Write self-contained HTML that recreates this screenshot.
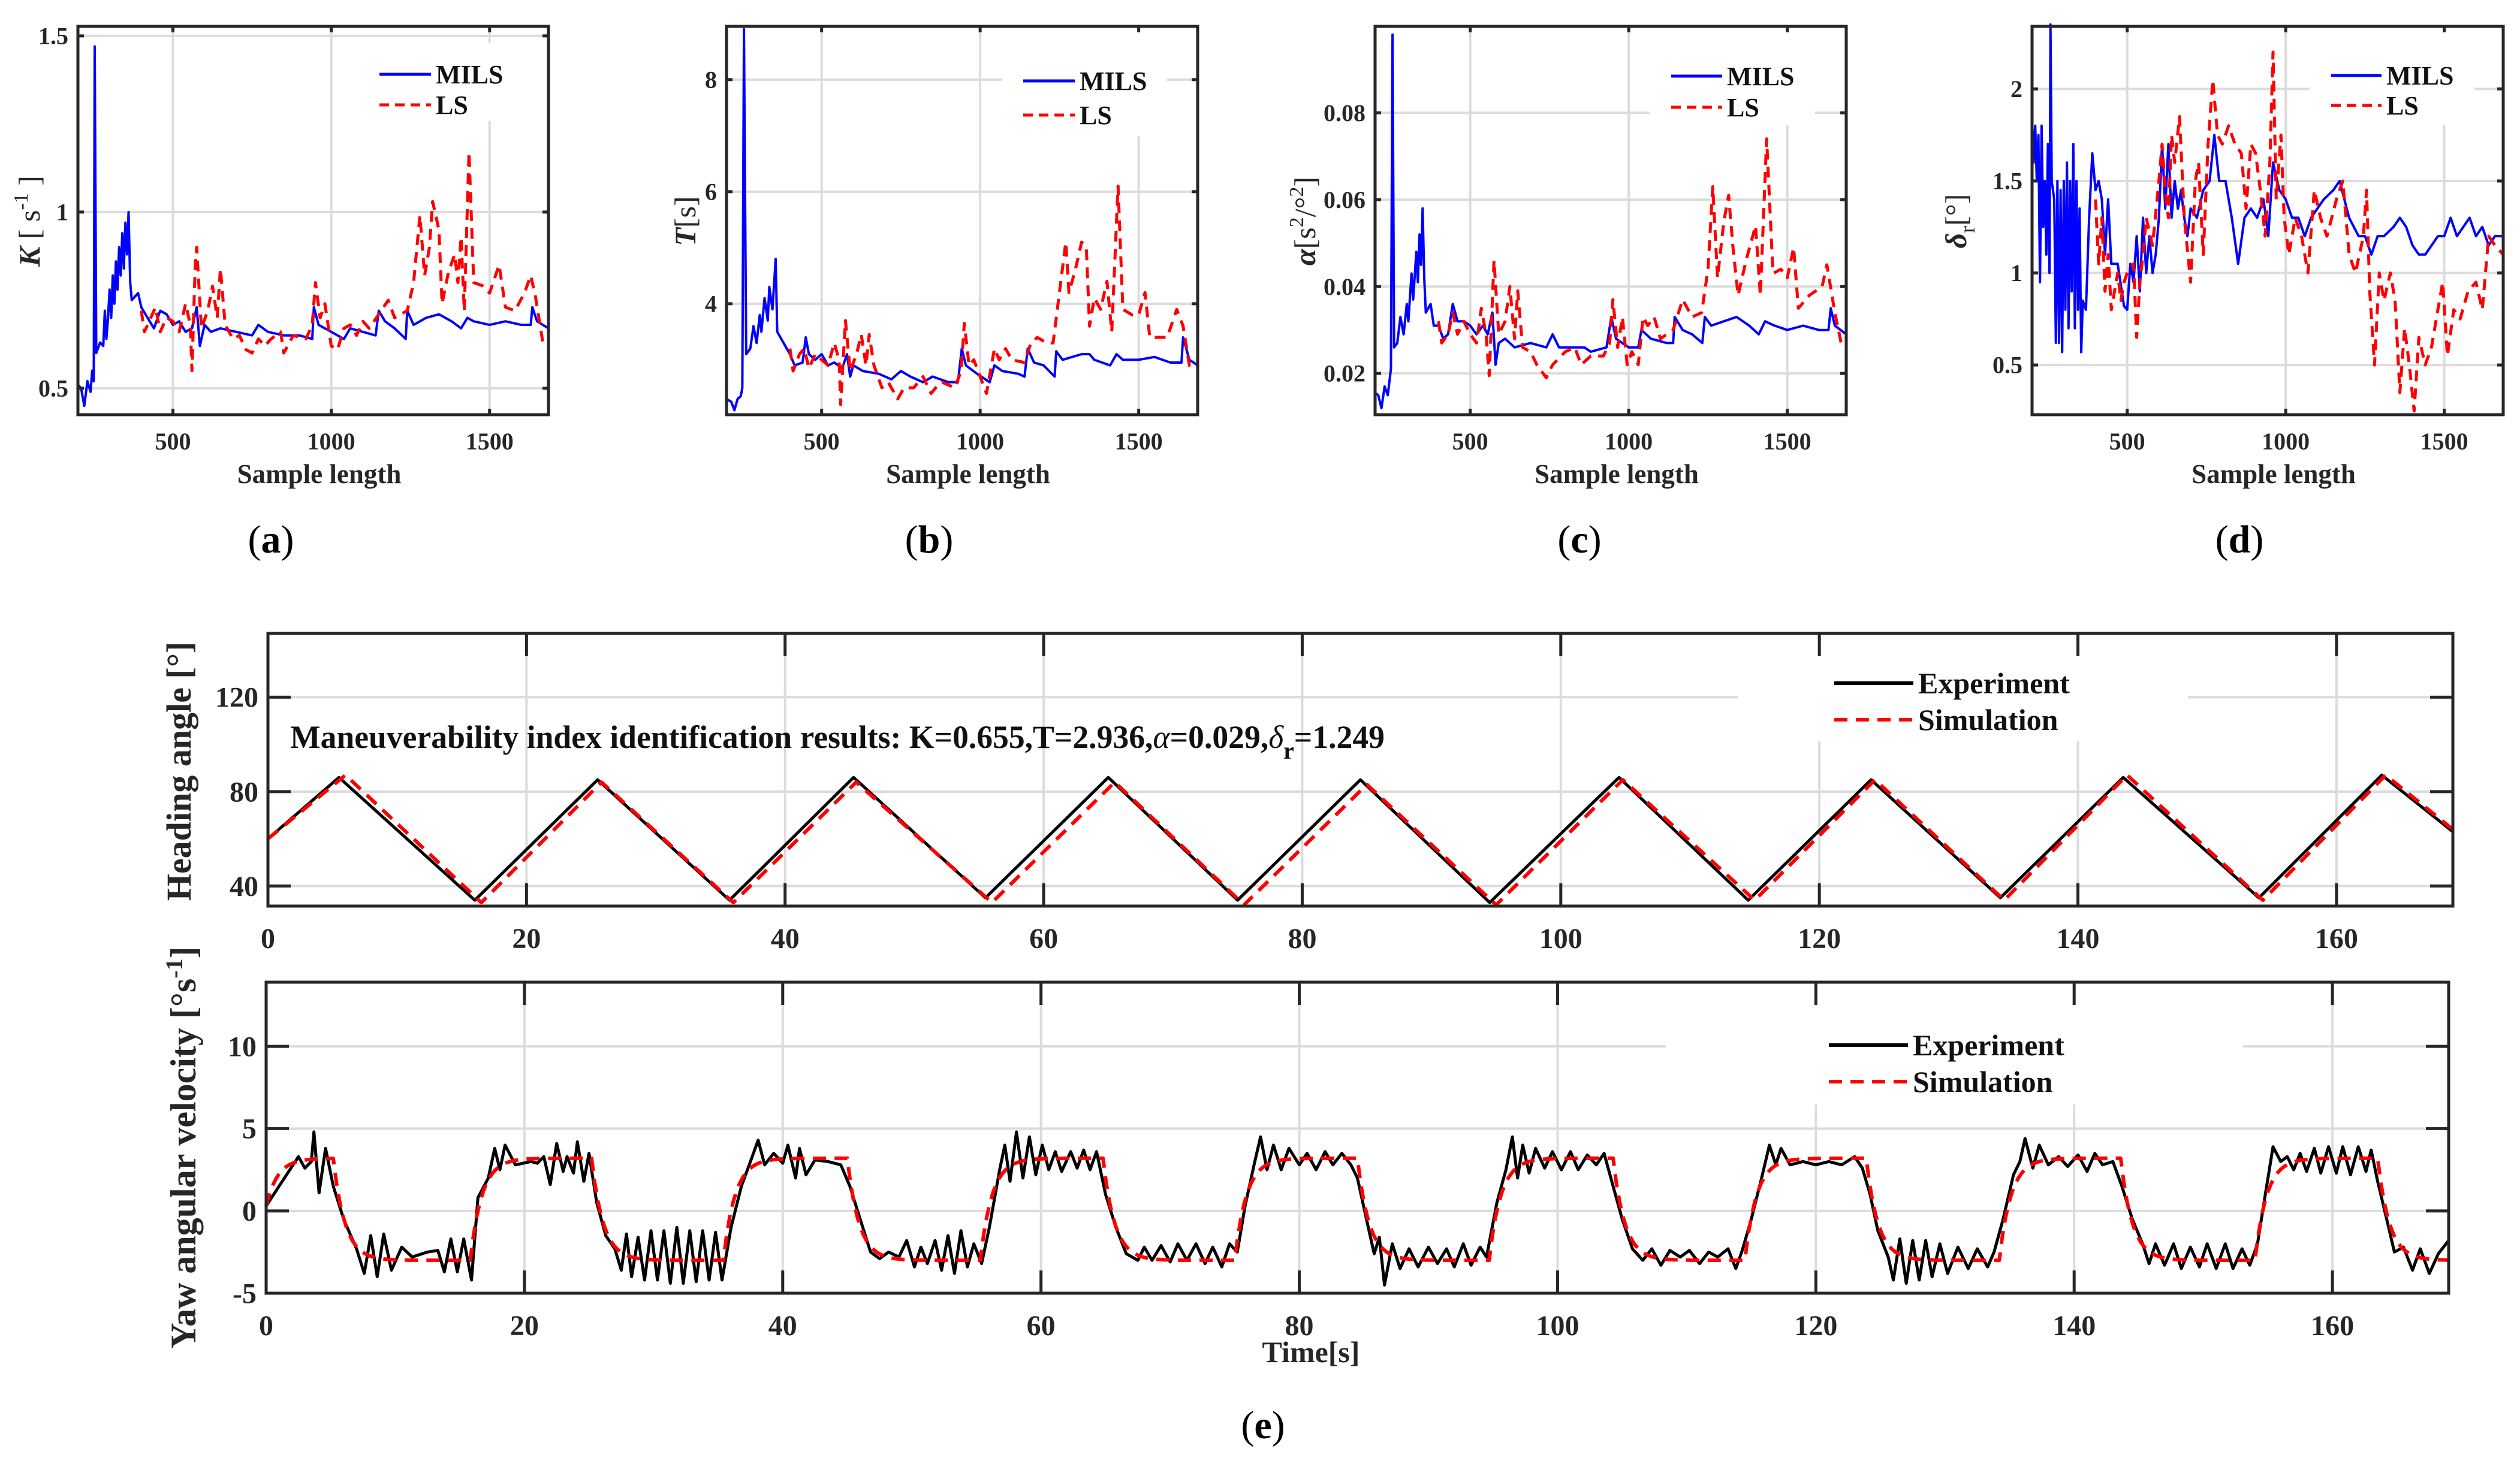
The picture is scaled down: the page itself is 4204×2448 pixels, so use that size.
<!DOCTYPE html>
<html><head><meta charset="utf-8"><style>
html,body{margin:0;padding:0;background:#fff;}
svg{display:block;font-family:"Liberation Serif",serif;}
</style></head><body>
<svg id="fig" width="4204" height="2448" viewBox="0 0 4204 2448" xmlns="http://www.w3.org/2000/svg"></svg>
<script>
// ---------- DATA ----------
const sampleTicks=[500,1000,1500];
const aMils=[[200,0.51],[210,0.50],[220,0.45],[230,0.52],[240,0.49],[245,0.55],[250,0.52],[253,1.47],[258,0.6],[270,0.63],[280,0.62],[285,0.72],[290,0.64],[295,0.70],[300,0.78],[305,0.70],[310,0.82],[315,0.74],[320,0.86],[325,0.78],[330,0.90],[335,0.82],[340,0.94],[345,0.84],[350,0.97],[355,0.88],[360,1.0],[365,0.8],[370,0.75],[380,0.76],[390,0.77],[400,0.73],[420,0.70],[440,0.67],[460,0.72],[480,0.71],[500,0.68],[520,0.69],[540,0.66],[560,0.67],[575,0.73],[585,0.62],[600,0.68],[620,0.66],[650,0.67],[700,0.66],[750,0.65],[770,0.68],[800,0.66],[850,0.65],[900,0.65],[940,0.64],[945,0.73],[960,0.68],[1000,0.66],[1040,0.64],[1060,0.67],[1100,0.66],[1140,0.65],[1150,0.72],[1170,0.69],[1200,0.67],[1235,0.64],[1240,0.72],[1260,0.68],[1300,0.70],[1340,0.71],[1380,0.69],[1410,0.67],[1430,0.70],[1450,0.69],[1500,0.68],[1550,0.69],[1600,0.68],[1630,0.68],[1635,0.73],[1650,0.69],[1686,0.67]];
const aLs=[[400,0.72],[410,0.66],[430,0.70],[445,0.73],[460,0.66],[480,0.70],[500,0.69],[520,0.66],[540,0.74],[555,0.68],[560,0.55],[570,0.84],[575,0.90],[590,0.67],[610,0.72],[625,0.79],[640,0.70],[650,0.84],[665,0.68],[690,0.64],[710,0.65],[730,0.61],[750,0.60],[770,0.64],[790,0.62],[810,0.64],[840,0.66],[850,0.60],[880,0.65],[920,0.64],[940,0.68],[950,0.80],[965,0.70],[980,0.74],[1000,0.62],[1020,0.61],[1040,0.67],[1060,0.68],[1080,0.65],[1100,0.69],[1120,0.67],[1150,0.71],[1180,0.75],[1200,0.70],[1240,0.72],[1260,0.80],[1280,0.99],[1295,0.82],[1310,0.90],[1320,1.03],[1340,0.95],[1350,0.74],[1370,0.83],[1390,0.88],[1400,0.80],[1410,0.93],[1420,0.72],[1435,1.17],[1450,0.80],[1480,0.79],[1500,0.77],[1530,0.85],[1550,0.73],[1580,0.72],[1610,0.77],[1630,0.82],[1645,0.76],[1670,0.62]];
const bMils=[[200,2.3],[215,2.25],[225,2.1],[235,2.3],[245,2.35],[250,2.5],[255,8.9],[262,3.1],[275,3.2],[285,3.6],[295,3.3],[305,3.8],[310,3.5],[320,4.1],[330,3.7],[335,4.3],[345,3.9],[355,4.8],[360,3.5],[370,3.4],[380,3.3],[400,3.1],[415,2.9],[440,2.95],[450,3.4],[460,3.1],[480,3.0],[500,3.1],[520,2.9],[540,2.95],[565,2.85],[580,3.1],[590,2.7],[600,2.9],[630,2.8],[680,2.75],[720,2.65],[750,2.8],[780,2.7],[820,2.6],[850,2.7],[900,2.6],[930,2.6],[942,3.2],[955,2.9],[990,2.75],[1030,2.6],[1045,2.9],[1070,2.8],[1120,2.75],[1140,2.7],[1150,3.2],[1170,2.95],[1200,2.9],[1235,2.7],[1240,3.15],[1260,3.0],[1320,3.1],[1345,3.1],[1360,3.0],[1410,2.9],[1430,3.1],[1450,3.0],[1500,3.0],[1550,3.05],[1600,2.95],[1635,2.95],[1640,3.4],[1660,3.0],[1686,2.9]];
const bLs=[[400,3.2],[410,2.8],[430,3.1],[445,3.2],[460,2.85],[480,3.1],[500,3.0],[520,2.9],[540,3.3],[555,3.0],[560,2.2],[575,3.7],[590,2.8],[610,3.1],[625,3.45],[640,2.9],[650,3.45],[665,2.9],[690,2.5],[710,2.6],[740,2.3],[760,2.5],[790,2.5],[820,2.7],[845,2.4],[860,2.5],[880,2.6],[920,2.5],[940,2.8],[950,3.65],[965,2.9],[980,3.0],[1000,2.7],[1020,2.4],[1045,3.2],[1060,3.0],[1080,3.2],[1100,3.0],[1140,2.95],[1160,3.3],[1180,3.4],[1210,3.3],[1230,3.3],[1250,4.2],[1270,5.1],[1280,4.2],[1300,4.6],[1320,5.1],[1335,5.0],[1345,3.6],[1360,4.1],[1380,3.9],[1400,4.4],[1415,3.5],[1435,6.1],[1450,3.9],[1480,3.8],[1500,3.8],[1520,4.2],[1535,3.4],[1560,3.4],[1590,3.4],[1620,3.9],[1640,3.6],[1660,2.9],[1686,2.9]];
const cMils=[[200,0.0155],[210,0.015],[220,0.012],[230,0.017],[240,0.015],[250,0.021],[255,0.098],[260,0.026],[270,0.027],[280,0.033],[290,0.029],[300,0.036],[305,0.032],[315,0.043],[320,0.037],[330,0.048],[335,0.041],[340,0.052],[345,0.045],[350,0.058],[355,0.042],[360,0.034],[375,0.036],[385,0.031],[400,0.031],[415,0.028],[430,0.029],[445,0.036],[460,0.032],[480,0.032],[500,0.031],[520,0.029],[540,0.031],[555,0.029],[570,0.034],[580,0.022],[590,0.027],[610,0.028],[640,0.026],[690,0.027],[740,0.026],[760,0.029],[780,0.026],[820,0.026],[860,0.026],[880,0.025],[930,0.026],[945,0.033],[960,0.028],[1000,0.026],[1030,0.026],[1040,0.030],[1070,0.028],[1120,0.027],[1140,0.027],[1145,0.033],[1170,0.030],[1200,0.029],[1232,0.027],[1240,0.033],[1260,0.031],[1300,0.032],[1340,0.033],[1380,0.031],[1410,0.029],[1430,0.032],[1460,0.031],[1500,0.030],[1550,0.031],[1600,0.030],[1630,0.030],[1637,0.035],[1650,0.031],[1686,0.029]];
const cLs=[[400,0.032],[410,0.027],[430,0.029],[445,0.034],[460,0.029],[480,0.032],[500,0.029],[520,0.027],[535,0.035],[550,0.029],[560,0.0195],[575,0.046],[590,0.029],[610,0.032],[625,0.040],[640,0.028],[650,0.039],[665,0.026],[690,0.025],[710,0.022],[740,0.019],[760,0.022],[800,0.025],[830,0.026],[850,0.022],[880,0.024],[920,0.024],[940,0.027],[950,0.037],[965,0.026],[980,0.033],[995,0.022],[1010,0.025],[1030,0.022],[1045,0.033],[1060,0.031],[1080,0.033],[1100,0.028],[1140,0.030],[1170,0.037],[1200,0.033],[1230,0.034],[1250,0.044],[1265,0.063],[1280,0.042],[1300,0.055],[1315,0.061],[1330,0.048],[1345,0.038],[1370,0.046],[1400,0.054],[1415,0.038],[1435,0.074],[1455,0.043],[1480,0.044],[1500,0.042],[1520,0.049],[1535,0.035],[1570,0.038],[1610,0.040],[1625,0.045],[1650,0.034],[1670,0.027],[1686,0.027]];
const dMils=[[200,1.85],[205,1.6],[210,1.8],[215,1.5],[220,1.75],[225,0.95],[230,1.8],[235,1.25],[240,1.5],[245,1.1],[250,1.7],[255,1.0],[258,2.35],[262,1.5],[270,1.4],[275,0.62],[280,1.5],[285,0.62],[290,1.45],[295,0.57],[300,1.5],[305,0.8],[310,1.6],[315,0.7],[320,1.5],[325,0.9],[330,1.7],[335,0.7],[340,1.5],[345,0.8],[350,1.35],[355,0.57],[360,0.85],[370,0.8],[380,1.3],[390,1.65],[400,1.45],[410,1.5],[420,1.4],[430,1.1],[440,1.4],[450,1.05],[470,1.05],[490,0.82],[500,0.8],[510,1.05],[520,0.95],[530,1.2],[540,0.9],[550,1.3],[560,1.0],[570,1.2],[580,1.0],[590,1.1],[600,1.3],[610,1.7],[620,1.35],[630,1.7],[640,1.3],[650,1.5],[660,1.35],[670,1.45],[680,1.3],[690,1.2],[700,1.35],[720,1.3],[740,1.45],[760,1.5],[775,1.75],[790,1.5],[810,1.5],[830,1.3],[850,1.05],[870,1.3],[890,1.35],[910,1.3],[930,1.4],[945,1.2],[960,1.6],[980,1.45],[1000,1.4],[1020,1.3],[1040,1.3],[1060,1.2],[1080,1.3],[1100,1.35],[1120,1.4],[1150,1.45],[1170,1.5],[1200,1.3],[1230,1.2],[1250,1.2],[1270,1.1],[1290,1.2],[1310,1.2],[1340,1.25],[1360,1.3],[1380,1.25],[1400,1.15],[1420,1.1],[1440,1.1],[1460,1.15],[1480,1.2],[1500,1.2],[1520,1.3],[1540,1.2],[1560,1.25],[1580,1.3],[1600,1.2],[1620,1.25],[1640,1.15],[1660,1.2],[1686,1.2]];
const dLs=[[400,1.4],[410,1.05],[420,1.3],[430,0.9],[440,1.1],[450,0.8],[460,0.9],[470,1.0],[480,0.85],[490,0.95],[500,1.0],[520,1.05],[530,0.65],[540,0.95],[550,1.1],[560,1.3],[580,1.15],[600,1.5],[610,1.7],[620,1.45],[630,1.3],[640,1.75],[650,1.6],[665,1.85],[680,1.3],[700,0.95],[715,1.5],[725,1.6],[740,1.1],[755,1.7],[770,2.05],[785,1.75],[800,1.7],[820,1.8],[840,1.7],[860,1.65],[875,1.35],[890,1.7],[905,1.65],[920,1.45],[935,1.2],[950,1.6],[960,2.2],[970,1.4],[985,1.75],[995,1.3],[1010,1.1],[1030,1.3],[1050,1.2],[1070,1.0],[1090,1.45],[1110,1.3],[1130,1.2],[1160,1.4],[1180,1.5],[1200,1.1],[1220,1.0],[1245,1.2],[1255,1.45],[1265,0.9],[1280,0.5],[1295,1.0],[1310,0.85],[1330,1.0],[1345,0.85],[1360,0.35],[1375,0.7],[1390,0.5],[1405,0.25],[1420,0.65],[1440,0.5],[1460,0.6],[1480,0.8],[1495,0.95],[1510,0.55],[1530,0.8],[1550,0.75],[1575,0.9],[1600,0.95],[1620,0.8],[1640,1.2],[1660,1.15],[1686,1.1]];
const timeTicks=[0,20,40,60,80,100,120,140,160];
const headTicks=[40,80,120];
const yawTicks=[-5,0,5,10];
const headExpT=[0,5.5,16,25.5,35.7,45.3,55.5,65,75,84.5,94.5,104.5,114.5,124,134,143.5,154,163.5,169];
const headExpV=[60,86,34,85,34,86,35,86,34,85,33,86,34,85,35,86,35,87,63];
const headSimT=[0,6,16.5,25.8,36,45.5,56,65.5,75.5,85,95,104.8,115,124.3,134.3,143.8,154.3,163.8,169];
const headSimV=[60,87,33,84,33,84,33,84,32,83,32,85,34,85,34,87,34,87,64];
const yawSwitchT=[0,5.2,15.8,25.2,35.4,45.0,55.3,64.8,75.0,84.5,94.7,104.3,114.5,123.9,134.2,143.6,154.0,163.5];
const yawSwitchLevel=[3.2,-3.0,3.2,-3.0,3.2,-3.0,3.2,-3.0,3.2,-3.0,3.2,-3.0,3.2,-3.0,3.2,-3.0,3.2,-3.0];
const yawExp=[[0,0.3],[1,1.5],[2,2.7],[2.5,3.3],[3,2.6],[3.5,3.0],[3.7,4.8],[4.1,1.1],[4.6,3.8],[5.2,1.5],[6,-0.5],[7,-2.3],[7.6,-3.8],[8.1,-1.5],[8.6,-4.0],[9.1,-1.4],[9.7,-3.6],[10.5,-2.2],[11.3,-2.8],[12.5,-2.5],[13.3,-2.4],[13.8,-3.7],[14.3,-1.7],[14.8,-3.7],[15.3,-1.7],[15.9,-4.2],[16.4,0.8],[17.2,2.0],[17.7,3.8],[18.1,2.5],[18.5,4.0],[19.3,2.8],[20.5,3.0],[21,2.9],[21.5,3.3],[22,1.6],[22.5,4.1],[23,2.4],[23.3,3.3],[23.8,2.3],[24.1,4.2],[24.6,1.8],[25,3.5],[25.6,0.5],[26.3,-1.5],[27,-2.3],[27.5,-3.6],[27.9,-1.4],[28.3,-4.0],[28.8,-1.6],[29.3,-4.2],[29.8,-1.2],[30.3,-4.2],[30.8,-1.2],[31.3,-4.4],[31.8,-1.0],[32.3,-4.4],[32.8,-1.2],[33.3,-4.3],[33.8,-1.2],[34.3,-4.2],[34.8,-1.3],[35.3,-4.2],[36,-1],[36.8,1.5],[37.5,3.0],[38.1,4.3],[38.6,2.8],[39.3,3.5],[40,2.9],[40.4,4.0],[41,2.0],[41.3,3.8],[41.8,2.2],[42.5,3.1],[43.5,3.0],[44.5,2.8],[45.2,1.5],[46,-0.5],[46.8,-2.5],[47.5,-2.9],[48.2,-2.5],[49,-2.8],[49.6,-1.8],[50.2,-3.4],[50.7,-2.2],[51.2,-3.2],[51.8,-1.8],[52.3,-3.6],[52.8,-1.5],[53.3,-3.8],[53.8,-1.2],[54.3,-3.4],[54.8,-2.0],[55.4,-3.2],[56,-1],[56.8,2.5],[57.2,4.0],[57.6,1.8],[58.1,4.8],[58.6,2.0],[59.1,4.5],[59.6,2.2],[60.1,4.0],[60.6,2.5],[61.1,3.6],[61.6,2.4],[62.3,3.6],[62.8,2.6],[63.3,3.7],[63.8,2.5],[64.3,3.6],[65,1.0],[65.8,-1.0],[66.6,-2.6],[67.5,-3.0],[68,-2.2],[68.6,-3.0],[69.3,-2.1],[70,-3.1],[70.6,-2.0],[71.3,-3.0],[72,-2.0],[72.7,-3.2],[73.3,-2.2],[74,-3.4],[74.6,-2.0],[75.2,-2.5],[75.8,0.3],[76.5,2.8],[77,4.5],[77.5,2.5],[78,4.0],[78.6,2.5],[79.2,3.8],[80,2.8],[80.6,3.5],[81.3,2.5],[82,3.6],[82.6,2.8],[83.3,3.5],[84,2.8],[84.5,2.0],[85.2,-0.5],[85.8,-2.6],[86.2,-1.6],[86.6,-4.5],[87.2,-2.0],[87.8,-3.5],[88.5,-2.3],[89.2,-3.4],[90,-2.2],[90.7,-3.2],[91.4,-2.3],[92,-3.4],[92.7,-2.0],[93.3,-3.3],[94,-2.2],[94.5,-2.8],[95.3,0.5],[96,2.5],[96.5,4.5],[96.9,2.0],[97.3,4.0],[97.8,2.3],[98.3,3.8],[99,2.6],[99.6,3.6],[100.3,2.5],[101,3.6],[101.6,2.5],[102.3,3.4],[103,2.8],[103.6,3.5],[104.3,1.5],[105,-0.5],[105.8,-2.3],[106.6,-3.0],[107.3,-2.3],[108,-3.3],[108.7,-2.4],[109.5,-2.8],[110.2,-2.4],[111,-3.2],[111.7,-2.5],[112.4,-2.8],[113.2,-2.3],[113.8,-3.5],[114.3,-2.4],[115,-0.5],[115.8,2.0],[116.4,4.0],[116.9,2.8],[117.3,3.8],[118,2.8],[119,3.0],[120,2.8],[121,3.0],[122,2.8],[123,3.3],[123.6,2.6],[124.2,1.0],[124.8,-1.2],[125.6,-2.8],[126,-4.2],[126.5,-1.7],[127,-4.4],[127.5,-1.8],[128,-4.2],[128.5,-1.8],[129,-4.0],[129.6,-2.0],[130.2,-3.8],[131,-2.2],[131.8,-3.5],[132.5,-2.3],[133.3,-3.4],[133.8,-2.5],[134.5,-0.5],[135.3,2.2],[135.8,3.0],[136.2,4.4],[136.8,2.6],[137.3,4.0],[138,2.8],[138.8,3.3],[139.5,2.7],[140.3,3.4],[141,2.4],[141.6,3.5],[142.2,2.8],[143,3.0],[143.7,1.5],[144.5,-0.5],[145.3,-2.0],[145.8,-3.2],[146.3,-2.0],[147,-3.3],[147.7,-2.0],[148.3,-3.5],[149,-2.2],[149.7,-3.4],[150.3,-2.0],[151,-3.5],[151.7,-2.0],[152.3,-3.5],[153,-2.3],[153.6,-3.3],[154.2,-2.0],[154.8,1.0],[155.4,3.9],[156,3.0],[156.5,3.3],[157,2.5],[157.5,3.5],[158,2.4],[158.6,3.8],[159.1,2.3],[159.7,3.9],[160.3,2.3],[160.8,3.9],[161.4,2.2],[162,3.9],[162.6,2.4],[163,3.7],[163.5,1.8],[164.2,-0.5],[164.8,-2.5],[165.5,-2.2],[166.2,-3.6],[166.8,-2.3],[167.5,-3.8],[168.2,-2.6],[169,-1.8]];

// ---------- DRAWING ----------
const NS='http://www.w3.org/2000/svg';
const svg=document.getElementById('fig');
function mk(tag,attrs,parent){const e=document.createElementNS(NS,tag);for(const k in attrs)e.setAttribute(k,attrs[k]);(parent||svg).appendChild(e);return e;}
function scales(c){return {x:v=>c.L+(v-c.x0)/(c.x1-c.x0)*(c.R-c.L), y:v=>c.B-(v-c.y0)/(c.y1-c.y0)*(c.B-c.T)};}
function ptsStr(s,arr){return arr.map(p=>s.x(p[0]).toFixed(1)+','+s.y(p[1]).toFixed(1)).join(' ');}

function drawFrame(c,g,tickLen,xticks,yticks){
  const s=scales(c);
  xticks.forEach(t=>{const l=mk('line',{x1:s.x(t),x2:s.x(t),y1:c.T,y2:c.B,stroke:'#dcdcdc','stroke-width':4},g);
    
    });
  yticks.forEach(t=>{const l=mk('line',{x1:c.L,x2:c.R,y1:s.y(t),y2:s.y(t),stroke:'#dcdcdc','stroke-width':4},g);
    
    });
  return s;
}
function drawAxes(c,g,tickLen,xticks,yticks,ylabels,xlabelY,fs,showX){
  const s=scales(c);
  const fr=mk('rect',{x:c.L,y:c.T,width:c.R-c.L,height:c.B-c.T,fill:'none',stroke:'#262626','stroke-width':5},g);
  
  
  xticks.forEach(t=>{
    mk('line',{x1:s.x(t),x2:s.x(t),y1:c.B,y2:c.B-tickLen,stroke:'#262626','stroke-width':5},g);
    mk('line',{x1:s.x(t),x2:s.x(t),y1:c.T,y2:c.T+tickLen,stroke:'#262626','stroke-width':5},g);
    if(showX){const tx=mk('text',{x:s.x(t),y:xlabelY,'text-anchor':'middle','font-size':fs,'font-weight':'bold',fill:'#262626'},g);
      tx.textContent=String(t);
      
      }
  });
  yticks.forEach((t,i)=>{
    mk('line',{x1:c.L,x2:c.L+tickLen,y1:s.y(t),y2:s.y(t),stroke:'#262626','stroke-width':5},g);
    mk('line',{x1:c.R,x2:c.R-tickLen,y1:s.y(t),y2:s.y(t),stroke:'#262626','stroke-width':5},g);
    const ty=mk('text',{x:c.L-16,y:s.y(t)+fs*0.34,'text-anchor':'end','font-size':fs,'font-weight':'bold',fill:'#262626'},g);
    ty.textContent=ylabels[i];
    
    
  });
}
function series(s,arr,g,color,w,dash,name){
  const pl=mk('polyline',{points:ptsStr(s,arr),fill:'none',stroke:color,'stroke-width':w,'stroke-linejoin':'round'},g);
  if(dash)pl.setAttribute('stroke-dasharray',dash);
  
  
}
function legendBox(g,x,y,w,h){const r=mk('rect',{x:x,y:y,width:w,height:h,fill:'#fff'},g);
  
  }
function legendEntry(g,x1,x2,y,color,dash,label,fs,w,name){
  const l=mk('line',{x1:x1,x2:x2,y1:y,y2:y,stroke:color,'stroke-width':w},g);
  if(dash)l.setAttribute('stroke-dasharray',dash);
  const t=mk('text',{x:x2+8,y:y+fs*0.34,'font-size':fs,'font-weight':'bold',fill:'#111'},g);
  t.textContent=label;
  
  
  
  
}

const small=[
 {id:'a',L:130,R:915,T:44,B:692,x0:200,x1:1686,y0:0.425,y1:1.527,yt:[0.5,1,1.5],yl:['0.5','1','1.5'],mils:aMils,ls:aLs,leg:[620,72,300,130],lx:[633,719],ly:[124,175],lab:[452]},
 {id:'b',L:1212,R:1998,T:44,B:692,x0:200,x1:1686,y0:2.02,y1:8.95,yt:[4,6,8],yl:['4','6','8'],mils:bMils,ls:bLs,leg:[1672,44,275,183],lx:[1707,1793],ly:[135,192],lab:[1550]},
 {id:'c',L:2294,R:3080,T:44,B:692,x0:200,x1:1686,y0:0.0105,y1:0.0999,yt:[0.02,0.04,0.06,0.08],yl:['0.02','0.04','0.06','0.08'],mils:cMils,ls:cLs,leg:[2752,44,276,164],lx:[2788,2873],ly:[127,179],lab:[2635]},
 {id:'d',L:3390,R:4176,T:44,B:692,x0:200,x1:1686,y0:0.23,y1:2.34,yt:[0.5,1,1.5,2],yl:['0.5','1','1.5','2'],mils:dMils,ls:dLs,leg:[3853,44,275,164],lx:[3889,3973],ly:[126,176],lab:[3736]}
];
small.forEach(c=>{
  const g=mk('g',{});
  
  
  const s=drawFrame(c,g,10,sampleTicks,c.yt);
  series(s,c.mils,g,'#0000ff',4,null,'mils-line');
  series(s,c.ls,g,'#ff0000',5,'18 12','ls-line');
  legendBox(g,c.leg[0],c.leg[1],c.leg[2],c.leg[3]);
  drawAxes(c,g,10,sampleTicks,c.yt,c.yl,750,40,true);
  legendEntry(g,c.lx[0],c.lx[1],c.ly[0],'#0000ff',null,'MILS',44,5,'legend-mils');
  legendEntry(g,c.lx[0],c.lx[1],c.ly[1],'#ff0000','16 10','LS',44,5,'legend-ls');
  const xl=mk('text',{x:(c.L+c.R)/2+10,y:806,'text-anchor':'middle','font-size':45,'font-weight':'bold',fill:'#262626'},g);
  xl.textContent='Sample length';
  
  
  const pl=mk('text',{x:c.lab[0],y:922,'text-anchor':'middle','font-size':66,fill:'#000'},g);
  pl.innerHTML='(<tspan font-weight="bold">'+c.id+'</tspan>)';
  
  
});
function ytitle(cx,cy,html,name){const t=mk('text',{x:cx,y:cy,'text-anchor':'middle','font-size':50,fill:'#262626',transform:'rotate(-90 '+cx+' '+cy+')'});
  t.innerHTML=html;
  
  }
ytitle(66,369,'<tspan font-weight="bold" font-style="italic">K</tspan> [ s<tspan font-size="34" dy="-20">-1</tspan><tspan dy="20"> ]</tspan>','y-axis-title-k');
ytitle(1160,369,'<tspan font-weight="bold" font-style="italic">T</tspan>[s]','y-axis-title-t');
ytitle(2194,369,'<tspan font-weight="bold" font-style="italic">α</tspan>[s<tspan font-size="34" dy="-20">2</tspan><tspan dy="20">/°</tspan><tspan font-size="34" dy="-20">2</tspan><tspan dy="20">]</tspan>','y-axis-title-alpha');
ytitle(3280,369,'<tspan font-weight="bold" font-style="italic">δ</tspan><tspan font-size="36" dy="14">r</tspan><tspan dy="-14">[°]</tspan>','y-axis-title-delta');

// ---------- bottom panels ----------
const H={L:447,R:4092,T:1057,B:1512,x0:0,x1:169,y0:31.5,y1:147};
const Y={L:444,R:4085,T:1639,B:2158,x0:0,x1:169,y0:-5,y1:13.9};
const gH=mk('g',{});


const sH=drawFrame(H,gH,38,timeTicks,headTicks);
series(sH,headExpT.map((t,i)=>[t,headExpV[i]]),gH,'#000',5,null,'heading-experiment-line');
series(sH,headSimT.map((t,i)=>[t,headSimV[i]]),gH,'#ff0000',6,'22 14','heading-simulation-line');
legendBox(gH,2900,1060,750,177);
drawAxes(H,gH,38,timeTicks,headTicks,headTicks.map(String),1582,48,true);
legendEntry(gH,3060,3192,1140,'#000',null,'Experiment',50,6,'legend-experiment');
legendEntry(gH,3060,3192,1201,'#ff0000','22 14','Simulation',50,6,'legend-simulation');
const ann=mk('text',{x:484,y:1248,'font-size':54,'font-weight':'bold',fill:'#111',textLength:1826,lengthAdjust:'spacingAndGlyphs'},gH);
ann.innerHTML='Maneuverability index identification results: K=0.655,T=2.936,<tspan font-style="italic" font-weight="normal">α</tspan>=0.029,<tspan font-style="italic" font-weight="normal">δ</tspan><tspan font-size="40" dy="18">r</tspan><tspan dy="-18">=1.249</tspan>';


const hy=mk('text',{x:318,y:1287,'text-anchor':'middle','font-size':58,'font-weight':'bold',fill:'#262626',transform:'rotate(-90 318 1287)'});
hy.textContent='Heading angle [°]';



const yawSim=[];
(function(){let v=0.3;const tau=0.9;
  for(let i=0;i<yawSwitchT.length;i++){
    const t0=yawSwitchT[i],t1=(i+1<yawSwitchT.length?yawSwitchT[i+1]:169),target=yawSwitchLevel[i],v0=v;
    for(let t=t0;t<=t1+1e-6;t+=0.25){v=target+(v0-target)*Math.exp(-(t-t0)/tau);yawSim.push([t,v]);}
  }})();
const gY=mk('g',{});


const sY=drawFrame(Y,gY,38,timeTicks,yawTicks);
series(sY,yawExp,gY,'#000',5,null,'yaw-experiment-line');
series(sY,yawSim,gY,'#ff0000',6,'22 14','yaw-simulation-line');
legendBox(gY,2779,1642,963,201);
drawAxes(Y,gY,38,timeTicks,yawTicks,yawTicks.map(String),2228,48,true);
legendEntry(gY,3051,3183,1744,'#000',null,'Experiment',50,6,'legend-experiment-yaw');
legendEntry(gY,3051,3183,1805,'#ff0000','22 14','Simulation',50,6,'legend-simulation-yaw');
const yy=mk('text',{x:326,y:1915,'text-anchor':'middle','font-size':60,'font-weight':'bold',fill:'#262626',transform:'rotate(-90 326 1915)'});
yy.innerHTML='Yaw angular velocity [°s<tspan font-size="40" dy="-22">-1</tspan><tspan dy="22">]</tspan>';


const tx=mk('text',{x:2187,y:2273,'text-anchor':'middle','font-size':50,'font-weight':'bold',fill:'#262626'});
tx.textContent='Time[s]';


const pe=mk('text',{x:2107,y:2400,'text-anchor':'middle','font-size':66,fill:'#000'});
pe.innerHTML='(<tspan font-weight="bold">e</tspan>)';


</script>
</body></html>
